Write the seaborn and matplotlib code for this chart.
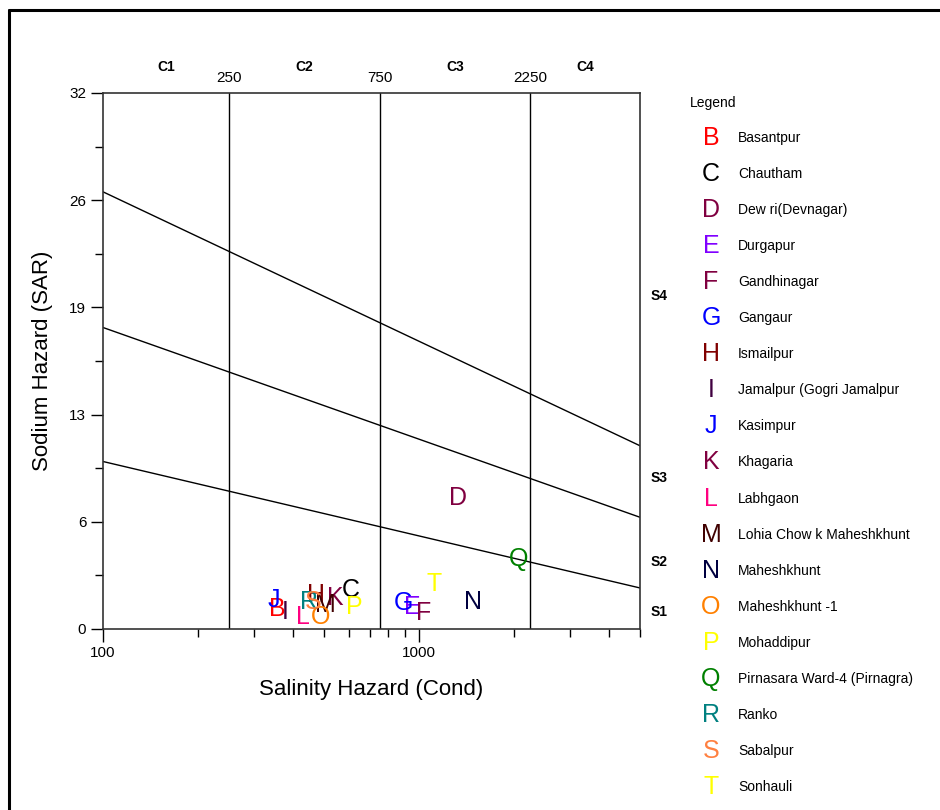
import numpy as np
import pandas as pd
import seaborn as sns
import matplotlib.pyplot as plt
from matplotlib.lines import Line2D
from matplotlib.ticker import FixedLocator, NullFormatter

sns.set_style("white")
plt.rcParams["font.family"] = ["Liberation Sans", "DejaVu Sans"]
plt.rcParams["text.color"] = "black"
plt.rcParams["axes.labelcolor"] = "black"
plt.rcParams["xtick.color"] = "black"
plt.rcParams["ytick.color"] = "black"

# DATA

letters = list("BCDEFGHIJKLMNOPQRST")
sites = ["Basantpur", "Chautham", "Dew ri(Devnagar)", "Durgapur", "Gandhinagar",
         "Gangaur", "Ismailpur", "Jamalpur (Gogri Jamalpur", "Kasimpur", "Khagaria",
         "Labhgaon", "Lohia Chow k Maheshkhunt", "Maheshkhunt", "Maheshkhunt -1",
         "Mohaddipur", "Pirnasara Ward-4 (Pirnagra)", "Ranko", "Sabalpur", "Sonhauli"]
cond = [357, 608, 1325, 950, 1030, 893, 471, 378, 347, 545,
        428, 507, 1483, 489, 622, 2061, 448, 461, 1117]
sar = [1.17, 2.3, 7.8, 1.31, 0.98, 1.55, 2.03, 1.01, 1.73, 1.85,
       0.72, 1.43, 1.61, 0.72, 1.31, 4.18, 1.61, 1.61, 2.7]
colors = ["#FF0000", "#000000", "#800040", "#8000FF", "#800040", "#0000FF",
          "#800000", "#400040", "#0000FF", "#800040", "#FF0080", "#400000",
          "#000040", "#FF8000", "#FFFF00", "#008000", "#008080", "#FF8040",
          "#FFFF00"]

# salinity class bounds and sodium hazard boundary lines (end points)
c_bounds = [250, 750, 2250]
c_labels = ["C1", "C2", "C3", "C4"]
line_x = [100, 5000]
s_lines = {"S1/S2": [10.0, 2.45], "S2/S3": [18.0, 6.67], "S3/S4": [26.1, 10.94]}
s_labels = ["S1", "S2", "S3", "S4"]
s_label_y = [1.0, 4.0, 9.0, 19.9]

y_ticks = [0, 6.4, 12.8, 19.2, 25.6, 32]
y_ticklabels = ["0", "6", "13", "19", "26", "32"]

df = pd.DataFrame({"letter": letters, "site": sites, "cond": cond, "sar": sar})
lines_df = pd.DataFrame([{"line": k, "x": x, "y": y}
                         for k, ys in s_lines.items() for x, y in zip(line_x, ys)])

# --------------------------------------------
# PLOT
# --------------------------------------------

fig = plt.figure(figsize=(9.4, 8.1), dpi=100)
ax = fig.add_axes([103 / 940, 1 - 629 / 810, 537 / 940, 536 / 810])

sns.lineplot(data=lines_df, x="x", y="y", units="line", estimator=None,
             color="black", lw=1.0, ax=ax)
for b in c_bounds:
    ax.axvline(b, color="black", lw=1.0)

ax.set_xscale("log")
ax.set_xlim(100, 5000)
ax.set_ylim(0, 32)

for row, c in zip(df.itertuples(), colors):
    ax.text(row.cond, row.sar, row.letter, color=c, fontsize=18,
            ha="center", va="center")

# ticks
ax.xaxis.set_major_locator(FixedLocator([100, 1000]))
ax.xaxis.set_minor_locator(FixedLocator([200, 300, 400, 500, 600, 700, 800, 900,
                                         2000, 3000, 4000, 5000]))
ax.xaxis.set_minor_formatter(NullFormatter())
ax.set_xticklabels(["100", "1000"])
ax.set_yticks(y_ticks)
ax.set_yticklabels(y_ticklabels)
ax.yaxis.set_minor_locator(FixedLocator([3.2, 9.6, 16.0, 22.4, 28.8]))
ax.tick_params(which="major", direction="out", length=9, width=1, labelsize=11,
               bottom=True, left=True, pad=3)
ax.tick_params(which="minor", direction="out", length=5.5, width=1,
               bottom=True, left=True)
for s in ax.spines.values():
    s.set_color("#333333")
    s.set_linewidth(1.2)

ax.set_xlabel("Salinity Hazard (Cond)", fontsize=16, labelpad=14)
ax.set_ylabel("Sodium Hazard (SAR)", fontsize=16, labelpad=12)

# class labels
edges = [100] + c_bounds + [5000]
for lab, lo, hi in zip(c_labels, edges[:-1], edges[1:]):
    ax.text(np.sqrt(lo * hi), 1.035, lab, transform=ax.get_xaxis_transform(),
            ha="center", va="bottom", fontsize=10, fontweight="bold")
for b in c_bounds:
    ax.text(b, 1.015, str(b), transform=ax.get_xaxis_transform(),
            ha="center", va="bottom", fontsize=11)
for lab, y in zip(s_labels, s_label_y):
    ax.text(1.02, y, lab, transform=ax.get_yaxis_transform(),
            ha="left", va="center", fontsize=10, fontweight="bold")

# legend
fig.text(690 / 940, 1 - 103 / 810, "Legend", fontsize=10, ha="left", va="center")
for i, (lt, site, c) in enumerate(zip(letters, sites, colors)):
    yy = 1 - (138 + i * 36.05) / 810
    fig.text(711 / 940, yy, lt, color=c, fontsize=18, ha="center", va="center")
    fig.text(738 / 940, yy, site, fontsize=10, ha="left", va="center")

# outer frame
fig.add_artist(Line2D([9 / 940, 9 / 940], [0, 1 - 10 / 810], color="black",
                      lw=2.2, transform=fig.transFigure))
fig.add_artist(Line2D([9 / 940, 1], [1 - 10 / 810, 1 - 10 / 810], color="black",
                      lw=2.2, transform=fig.transFigure))

fig.savefig("out.png", dpi=100)
